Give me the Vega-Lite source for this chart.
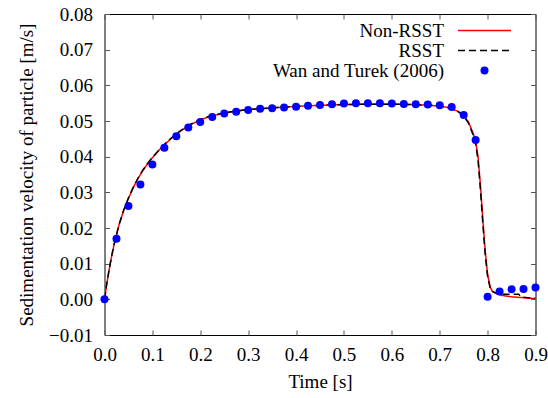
{
  "$schema": "https://vega.github.io/schema/vega-lite/v6.json",
  "autosize": "none",
  "width": 431,
  "height": 321,
  "padding": {"left": 104.5, "top": 14, "right": 12, "bottom": 63},
  "background": "white",
  "config": {
    "view": {"stroke": "#000", "strokeWidth": 1},
    "font": "Liberation Serif",
    "axis": {"labelFont": "Liberation Serif", "titleFont": "Liberation Serif", "labelFontSize": 19, "titleFontSize": 19, "titleFontWeight": "normal", "labelColor": "#000", "titleColor": "#000", "domainColor": "#000", "tickColor": "#555", "grid": false}
  },
  "data": {"values": [
    {"series": "Non-RSST", "t": 0, "v": 0},
    {"series": "Non-RSST", "t": 0.005, "v": 0.0045},
    {"series": "Non-RSST", "t": 0.01, "v": 0.0085},
    {"series": "Non-RSST", "t": 0.015, "v": 0.0121},
    {"series": "Non-RSST", "t": 0.02, "v": 0.0153},
    {"series": "Non-RSST", "t": 0.03, "v": 0.0207},
    {"series": "Non-RSST", "t": 0.04, "v": 0.0249},
    {"series": "Non-RSST", "t": 0.05, "v": 0.0283},
    {"series": "Non-RSST", "t": 0.06, "v": 0.0313},
    {"series": "Non-RSST", "t": 0.07, "v": 0.0339},
    {"series": "Non-RSST", "t": 0.08, "v": 0.0361},
    {"series": "Non-RSST", "t": 0.09, "v": 0.038},
    {"series": "Non-RSST", "t": 0.1, "v": 0.0397},
    {"series": "Non-RSST", "t": 0.12, "v": 0.0427},
    {"series": "Non-RSST", "t": 0.14, "v": 0.0452},
    {"series": "Non-RSST", "t": 0.16, "v": 0.0473},
    {"series": "Non-RSST", "t": 0.18, "v": 0.049},
    {"series": "Non-RSST", "t": 0.2, "v": 0.0503},
    {"series": "Non-RSST", "t": 0.22, "v": 0.0513},
    {"series": "Non-RSST", "t": 0.25, "v": 0.0522},
    {"series": "Non-RSST", "t": 0.28, "v": 0.0529},
    {"series": "Non-RSST", "t": 0.3, "v": 0.0532},
    {"series": "Non-RSST", "t": 0.35, "v": 0.0537},
    {"series": "Non-RSST", "t": 0.4, "v": 0.0541},
    {"series": "Non-RSST", "t": 0.45, "v": 0.0544},
    {"series": "Non-RSST", "t": 0.5, "v": 0.0546},
    {"series": "Non-RSST", "t": 0.55, "v": 0.0547},
    {"series": "Non-RSST", "t": 0.6, "v": 0.0547},
    {"series": "Non-RSST", "t": 0.65, "v": 0.0546},
    {"series": "Non-RSST", "t": 0.7, "v": 0.0542},
    {"series": "Non-RSST", "t": 0.72, "v": 0.0537},
    {"series": "Non-RSST", "t": 0.74, "v": 0.0526},
    {"series": "Non-RSST", "t": 0.75, "v": 0.0516},
    {"series": "Non-RSST", "t": 0.76, "v": 0.0497},
    {"series": "Non-RSST", "t": 0.77, "v": 0.0465},
    {"series": "Non-RSST", "t": 0.775, "v": 0.0442},
    {"series": "Non-RSST", "t": 0.78, "v": 0.04},
    {"series": "Non-RSST", "t": 0.785, "v": 0.032},
    {"series": "Non-RSST", "t": 0.79, "v": 0.0225},
    {"series": "Non-RSST", "t": 0.795, "v": 0.0135},
    {"series": "Non-RSST", "t": 0.8, "v": 0.007},
    {"series": "Non-RSST", "t": 0.805, "v": 0.0036},
    {"series": "Non-RSST", "t": 0.81, "v": 0.0022},
    {"series": "Non-RSST", "t": 0.82, "v": 0.0015},
    {"series": "Non-RSST", "t": 0.83, "v": 0.0011},
    {"series": "Non-RSST", "t": 0.85, "v": 0.0007},
    {"series": "Non-RSST", "t": 0.87, "v": 0.0005},
    {"series": "Non-RSST", "t": 0.9, "v": 0.0002},
    {"series": "RSST", "t": 0, "v": 0},
    {"series": "RSST", "t": 0.005, "v": 0.0046},
    {"series": "RSST", "t": 0.01, "v": 0.0086},
    {"series": "RSST", "t": 0.015, "v": 0.0122},
    {"series": "RSST", "t": 0.02, "v": 0.0154},
    {"series": "RSST", "t": 0.03, "v": 0.0208},
    {"series": "RSST", "t": 0.04, "v": 0.025},
    {"series": "RSST", "t": 0.05, "v": 0.0284},
    {"series": "RSST", "t": 0.06, "v": 0.0314},
    {"series": "RSST", "t": 0.07, "v": 0.034},
    {"series": "RSST", "t": 0.08, "v": 0.0362},
    {"series": "RSST", "t": 0.09, "v": 0.0381},
    {"series": "RSST", "t": 0.1, "v": 0.0398},
    {"series": "RSST", "t": 0.12, "v": 0.0428},
    {"series": "RSST", "t": 0.14, "v": 0.0453},
    {"series": "RSST", "t": 0.16, "v": 0.0474},
    {"series": "RSST", "t": 0.18, "v": 0.0491},
    {"series": "RSST", "t": 0.2, "v": 0.0504},
    {"series": "RSST", "t": 0.22, "v": 0.0514},
    {"series": "RSST", "t": 0.25, "v": 0.0523},
    {"series": "RSST", "t": 0.28, "v": 0.0529},
    {"series": "RSST", "t": 0.3, "v": 0.0532},
    {"series": "RSST", "t": 0.35, "v": 0.0537},
    {"series": "RSST", "t": 0.4, "v": 0.0541},
    {"series": "RSST", "t": 0.45, "v": 0.0544},
    {"series": "RSST", "t": 0.5, "v": 0.0546},
    {"series": "RSST", "t": 0.55, "v": 0.0547},
    {"series": "RSST", "t": 0.6, "v": 0.0547},
    {"series": "RSST", "t": 0.65, "v": 0.0546},
    {"series": "RSST", "t": 0.7, "v": 0.0542},
    {"series": "RSST", "t": 0.72, "v": 0.0537},
    {"series": "RSST", "t": 0.74, "v": 0.0525},
    {"series": "RSST", "t": 0.75, "v": 0.0514},
    {"series": "RSST", "t": 0.76, "v": 0.0494},
    {"series": "RSST", "t": 0.77, "v": 0.046},
    {"series": "RSST", "t": 0.775, "v": 0.0436},
    {"series": "RSST", "t": 0.78, "v": 0.039},
    {"series": "RSST", "t": 0.785, "v": 0.0308},
    {"series": "RSST", "t": 0.79, "v": 0.0212},
    {"series": "RSST", "t": 0.795, "v": 0.0125},
    {"series": "RSST", "t": 0.8, "v": 0.0064},
    {"series": "RSST", "t": 0.805, "v": 0.0034},
    {"series": "RSST", "t": 0.81, "v": 0.0022},
    {"series": "RSST", "t": 0.82, "v": 0.0016},
    {"series": "RSST", "t": 0.835, "v": 0.0014},
    {"series": "RSST", "t": 0.865, "v": 0.0014},
    {"series": "RSST", "t": 0.87, "v": 0.0006},
    {"series": "RSST", "t": 0.9, "v": 0.0003},
    {"series": "Wan and Turek (2006)", "t": 0, "v": 0},
    {"series": "Wan and Turek (2006)", "t": 0.025, "v": 0.017},
    {"series": "Wan and Turek (2006)", "t": 0.05, "v": 0.0262},
    {"series": "Wan and Turek (2006)", "t": 0.075, "v": 0.0322},
    {"series": "Wan and Turek (2006)", "t": 0.1, "v": 0.0378},
    {"series": "Wan and Turek (2006)", "t": 0.125, "v": 0.0425},
    {"series": "Wan and Turek (2006)", "t": 0.15, "v": 0.0457},
    {"series": "Wan and Turek (2006)", "t": 0.175, "v": 0.0482},
    {"series": "Wan and Turek (2006)", "t": 0.2, "v": 0.0497},
    {"series": "Wan and Turek (2006)", "t": 0.225, "v": 0.0511},
    {"series": "Wan and Turek (2006)", "t": 0.25, "v": 0.0521},
    {"series": "Wan and Turek (2006)", "t": 0.275, "v": 0.0526},
    {"series": "Wan and Turek (2006)", "t": 0.3, "v": 0.0531},
    {"series": "Wan and Turek (2006)", "t": 0.325, "v": 0.0534},
    {"series": "Wan and Turek (2006)", "t": 0.35, "v": 0.0536},
    {"series": "Wan and Turek (2006)", "t": 0.375, "v": 0.0538},
    {"series": "Wan and Turek (2006)", "t": 0.4, "v": 0.054},
    {"series": "Wan and Turek (2006)", "t": 0.425, "v": 0.0543},
    {"series": "Wan and Turek (2006)", "t": 0.45, "v": 0.0545},
    {"series": "Wan and Turek (2006)", "t": 0.475, "v": 0.0547},
    {"series": "Wan and Turek (2006)", "t": 0.5, "v": 0.0549},
    {"series": "Wan and Turek (2006)", "t": 0.525, "v": 0.055},
    {"series": "Wan and Turek (2006)", "t": 0.55, "v": 0.055},
    {"series": "Wan and Turek (2006)", "t": 0.575, "v": 0.055},
    {"series": "Wan and Turek (2006)", "t": 0.6, "v": 0.0549},
    {"series": "Wan and Turek (2006)", "t": 0.625, "v": 0.0548},
    {"series": "Wan and Turek (2006)", "t": 0.65, "v": 0.0547},
    {"series": "Wan and Turek (2006)", "t": 0.675, "v": 0.0546},
    {"series": "Wan and Turek (2006)", "t": 0.7, "v": 0.0544},
    {"series": "Wan and Turek (2006)", "t": 0.725, "v": 0.0539},
    {"series": "Wan and Turek (2006)", "t": 0.75, "v": 0.0517},
    {"series": "Wan and Turek (2006)", "t": 0.775, "v": 0.0447},
    {"series": "Wan and Turek (2006)", "t": 0.8, "v": 0.0007},
    {"series": "Wan and Turek (2006)", "t": 0.825, "v": 0.0022},
    {"series": "Wan and Turek (2006)", "t": 0.85, "v": 0.0028},
    {"series": "Wan and Turek (2006)", "t": 0.875, "v": 0.0029},
    {"series": "Wan and Turek (2006)", "t": 0.9, "v": 0.0033}
  ]},
  "resolve": {"axis": {"x": "independent", "y": "independent"}},
  "layer": [
    {
      "transform": [{"filter": "datum.series !== 'Wan and Turek (2006)'"}],
      "mark": {"type": "line", "strokeWidth": 1.5, "clip": true},
      "encoding": {
        "x": {"field": "t", "type": "quantitative", "scale": {"domain": [0, 0.9], "nice": false, "zero": false},
          "axis": {"orient": "bottom", "title": "Time [s]", "values": [0, 0.1, 0.2, 0.3, 0.4, 0.5, 0.6, 0.7, 0.8, 0.9], "format": ".1f", "tickSize": -5, "labelPadding": 15, "titlePadding": 8, "domain": false, "labelFlush": false}},
        "y": {"field": "v", "type": "quantitative", "scale": {"domain": [-0.01, 0.08], "nice": false, "zero": false},
          "axis": {"orient": "left", "title": "Sedimentation velocity of particle [m/s]", "values": [-0.01, 0, 0.01, 0.02, 0.03, 0.04, 0.05, 0.06, 0.07, 0.08], "format": ".2f", "tickSize": -5, "labelPadding": 17, "titlePadding": 12, "domain": false, "labelFlush": false}},
        "color": {"field": "series", "type": "nominal",
          "scale": {"domain": ["Non-RSST", "RSST", "Wan and Turek (2006)"], "range": ["#ff0000", "#000000", "#0000ff"]},
          "legend": {
            "orient": "none", "legendX": 370.5, "legendY": 7, "direction": "vertical",
            "title": null, "labelFont": "Liberation Serif", "labelFontSize": 19, "labelColor": "#000",
            "labelAlign": "right", "labelOffset": -50, "labelLimit": 300,
            "symbolSize": 2809, "symbolStrokeWidth": 1.5, "symbolOpacity": 1, "rowPadding": 0,
            "padding": 0,
            "encode": {"symbols": {"update": {
              "opacity": {"value": 1},
              "shape": {"signal": "datum.value === 'Wan and Turek (2006)' ? 'circle' : 'stroke'"},
              "size": {"signal": "datum.value === 'Wan and Turek (2006)' ? 64 : 2809"},
              "stroke": {"signal": "datum.value === 'Non-RSST' ? '#ff0000' : datum.value === 'RSST' ? '#000000' : '#0000ff'"},
              "strokeDash": {"signal": "datum.value === 'RSST' ? [7, 4] : [1, 0]"},
              "fill": {"signal": "datum.value === 'Wan and Turek (2006)' ? '#0000ff' : 'transparent'"},
              "strokeWidth": {"signal": "datum.value === 'Wan and Turek (2006)' ? 0 : 1.5"}
            }}}
          }},
        "strokeDash": {"field": "series", "type": "nominal",
          "scale": {"domain": ["Non-RSST", "RSST", "Wan and Turek (2006)"], "range": [[1, 0], [7, 4], [1, 0]]}},
        "shape": {"field": "series", "type": "nominal",
          "scale": {"domain": ["Non-RSST", "RSST", "Wan and Turek (2006)"], "range": ["stroke", "stroke", "circle"]}}
      }
    },
    {
      "transform": [{"filter": "datum.series === 'Wan and Turek (2006)'"}],
      "mark": {"type": "point", "filled": true, "size": 64, "opacity": 1},
      "encoding": {
        "x": {"field": "t", "type": "quantitative",
          "axis": {"orient": "top", "title": null, "labels": false, "domain": false, "tickSize": -5, "values": [0, 0.1, 0.2, 0.3, 0.4, 0.5, 0.6, 0.7, 0.8, 0.9]}},
        "y": {"field": "v", "type": "quantitative",
          "axis": {"orient": "right", "title": null, "labels": false, "domain": false, "tickSize": -5, "values": [-0.01, 0, 0.01, 0.02, 0.03, 0.04, 0.05, 0.06, 0.07, 0.08]}},
        "color": {"field": "series", "type": "nominal"},
        "shape": {"field": "series", "type": "nominal"}
      }
    }
  ]
}
